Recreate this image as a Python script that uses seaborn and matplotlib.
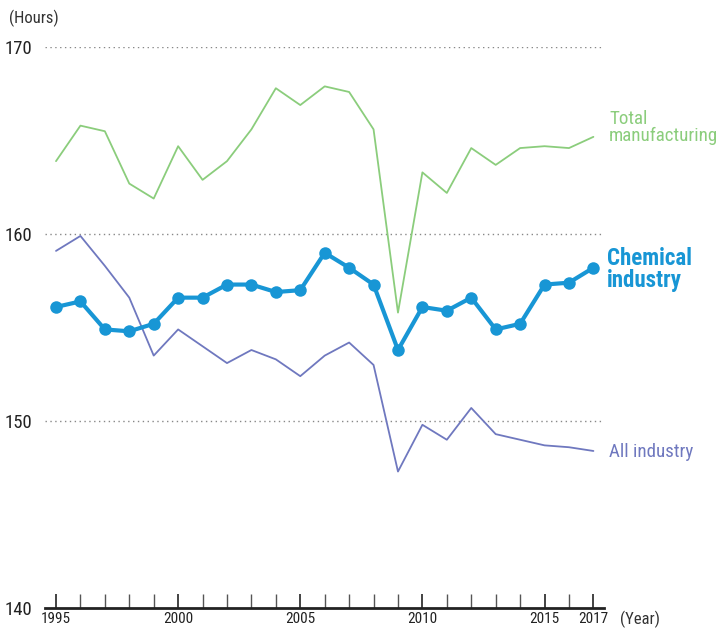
import numpy as np
import pandas as pd
import matplotlib
matplotlib.use("Agg")
import matplotlib.pyplot as plt
import seaborn as sns

# Data (monthly working hours)
years = list(range(1995, 2018))
total_manufacturing = [163.9, 165.8, 165.5, 162.7, 161.9, 164.7, 162.9, 163.9, 165.6, 167.8,
                       166.9, 167.9, 167.6, 165.6, 155.8, 163.3, 162.2, 164.6, 163.7, 164.6,
                       164.7, 164.6, 165.2]
chemical_industry = [156.1, 156.4, 154.9, 154.8, 155.2, 156.6, 156.6, 157.3, 157.3, 156.9,
                     157.0, 159.0, 158.2, 157.3, 153.8, 156.1, 155.9, 156.6, 154.9, 155.2,
                     157.3, 157.4, 158.2]
all_industry = [159.1, 159.9, 158.3, 156.6, 153.5, 154.9, 154.0, 153.1, 153.8, 153.3,
                152.4, 153.5, 154.2, 153.0, 147.3, 149.8, 149.0, 150.7, 149.3, 149.0,
                148.7, 148.6, 148.4]
label_years = [1995, 2000, 2005, 2010, 2015, 2017]
y_ticks = [140, 150, 160, 170]

green = "#8bcd7c"
blue = "#1896d5"
purple = "#6f78bf"

sns.set_style("white")
plt.rcParams['font.family'] = ['Roboto Condensed', 'DejaVu Sans']

fig = plt.figure(figsize=(7.19, 6.28), dpi=100)
ax = fig.add_axes([0.0626, 0.0318, 0.778, 0.8932])

df = pd.DataFrame({"year": years, "total": total_manufacturing,
                   "chem": chemical_industry, "all": all_industry})

sns.lineplot(data=df, x="year", y="total", color=green, lw=1.3, ax=ax)
sns.lineplot(data=df, x="year", y="all", color=purple, lw=1.3, ax=ax)
sns.lineplot(data=df, x="year", y="chem", color=blue, lw=3, marker="o",
             markersize=9, markeredgewidth=0, ax=ax)

ax.set_xlim(1994.55, 2017.45)
ax.set_ylim(140, 170)
ax.set_xlabel("")
ax.set_ylabel("")

# dotted grid lines
for v in [150, 160, 170]:
    ax.axhline(v, color="#888888", lw=1, ls=(0, (1, 2.5)), zorder=0)

for s in ["top", "right", "left"]:
    ax.spines[s].set_visible(False)
ax.spines["bottom"].set_color("#222222")
ax.spines["bottom"].set_linewidth(2)

# year ticks: labelled ones dark, the rest lighter
ax.set_xticks(label_years)
ax.set_xticklabels([str(y) for y in label_years])
ax.set_xticks([y for y in years if y not in label_years], minor=True)
ax.tick_params(axis="x", which="major", bottom=True, direction="in", length=10,
               width=1.2, color="#222222", pad=3, labelsize=11, labelcolor="#222222")
ax.tick_params(axis="x", which="minor", bottom=True, direction="in", length=10,
               width=1, color="#555555")
ax.set_yticks(y_ticks)
ax.set_yticklabels([str(v) for v in y_ticks])
ax.tick_params(axis="y", left=False, length=0, pad=9, labelsize=13.5,
               labelcolor="#222222")

fig.text(0.013, 0.970, "(Hours)", fontsize=12, color="#333333", va="center")
fig.text(0.862, 0.013, "(Year)", fontsize=12, color="#333333", va="center")

fig.text(0.847, 0.797, "Total\nmanufacturing", fontsize=13.7, color=green,
         va="center", linespacing=0.95)
fig.text(0.844, 0.571, "Chemical\nindustry", fontsize=16.5, color=blue,
         fontweight="bold", va="center", linespacing=0.95)
fig.text(0.847, 0.280, "All industry", fontsize=13.7, color=purple, va="center")

fig.savefig("out.png", dpi=100)
